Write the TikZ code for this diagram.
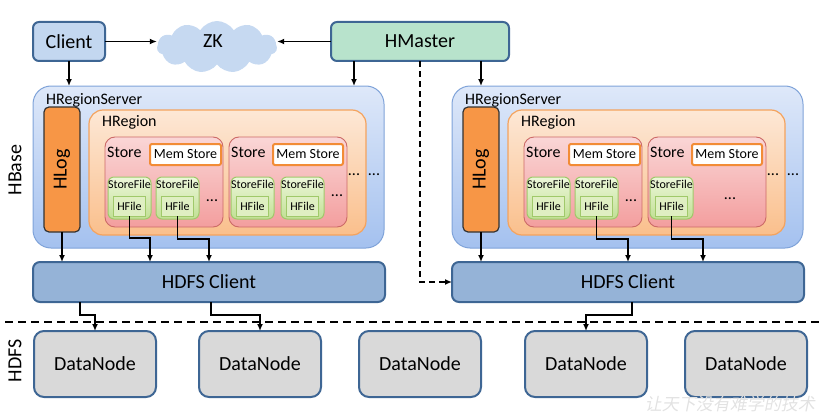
\documentclass[tikz,border=0pt]{standalone}
\usepackage{fontspec}
\setmainfont{Carlito}
\newfontfamily\wmfont[FakeSlant=0.2]{Noto Sans CJK SC}
\usetikzlibrary{shapes.symbols,arrows.meta,calc}

\definecolor{edgeblue}{HTML}{3E6694}
\definecolor{clientfill}{HTML}{C3D7F0}
\definecolor{cloudfill}{HTML}{C6D9F1}
\definecolor{masterfill}{HTML}{B8E3CC}
\definecolor{rstop}{HTML}{DEE8F9}
\definecolor{rsbot}{HTML}{A4C1EF}
\definecolor{rsedge}{HTML}{7FA3D9}
\definecolor{regtop}{HTML}{FDE8D6}
\definecolor{regbot}{HTML}{FABF8C}
\definecolor{regedge}{HTML}{F4A35E}
\definecolor{sttop}{HTML}{FAD6D6}
\definecolor{stbot}{HTML}{F39E9E}
\definecolor{stedge}{HTML}{CC6A67}
\definecolor{sftop}{HTML}{EDF7DA}
\definecolor{sfbot}{HTML}{C1E094}
\definecolor{sfedge}{HTML}{A0C96A}
\definecolor{hffill}{HTML}{DFEFC2}
\definecolor{logfill}{HTML}{F79646}
\definecolor{memedge}{HTML}{F28C36}
\definecolor{hdfsfill}{HTML}{95B3D7}
\definecolor{dnfill}{HTML}{D9D9D9}
\definecolor{wmgray}{HTML}{E2E2E2}

\newcommand\szA{\fontsize{20}{24}\selectfont}
\newcommand\szB{\fontsize{16}{19}\selectfont}
\newcommand\szC{\fontsize{14}{17}\selectfont}
\newcommand\szD{\fontsize{12}{14}\selectfont}

\tikzset{
  nw/.style={anchor=north west, inner sep=0pt, outer sep=0pt},
  topbox/.style={nw, draw=edgeblue, line width=2pt, rounded corners=6pt, font=\szA},
  rsbox/.style={nw, draw=rsedge, line width=1pt, rounded corners=18pt, top color=rstop, bottom color=rsbot},
  regbox/.style={nw, draw=regedge, line width=1.2pt, rounded corners=14pt, top color=regtop, bottom color=regbot},
  storebox/.style={nw, draw=stedge, line width=0.9pt, rounded corners=10pt, top color=sttop, bottom color=stbot},
  membox/.style={nw, draw=memedge, line width=2pt, rounded corners=2pt, fill=white, font=\szC, minimum width=71pt, minimum height=21pt},
  sfbox/.style={nw, draw=sfedge, line width=1pt, rounded corners=6pt, top color=sftop, bottom color=sfbot, minimum width=43pt, minimum height=42pt},
  hfbox/.style={nw, draw=sfedge, line width=1pt, fill=hffill, font=\szD, minimum width=32pt, minimum height=20pt},
  logbox/.style={nw, draw=black!80, line width=1.2pt, rounded corners=5pt, fill=logfill, font=\szA},
  hdfsbox/.style={nw, draw=edgeblue, line width=2pt, rounded corners=7pt, fill=hdfsfill, font=\szA},
  dnbox/.style={nw, draw=edgeblue, line width=2pt, rounded corners=10pt, fill=dnfill, font=\szA, minimum width=122pt, minimum height=66pt},
  lbl/.style={inner sep=0pt, anchor=west},
  dots/.style={inner sep=0pt, font=\szB},
  arr/.style={line width=1.8pt, -{Latex[length=7pt,width=6pt]}},
  dasharr/.style={arr, dash pattern=on 6pt off 4pt},
}

% One HRegionServer with its HLog, HRegion, two stores and the HDFS client below it
\newcommand\regionserver[2]{%
  \begin{scope}[xshift=#2pt]
    \node[rsbox, minimum width=351pt, minimum height=162pt] (#1rs) at (33,86) {};
    \node[lbl, font=\szB] (#1rslbl) at (46,100) {HRegionServer};
    \node[logbox, minimum width=36pt, minimum height=125pt] (#1log) at (44,107) {\rotatebox{90}{HLog}};
    \node[regbox, minimum width=277pt, minimum height=125pt] (#1reg) at (89,110) {};
    \node[lbl, font=\szB] (#1reglbl) at (102,122) {HRegion};
    % first store
    \node[storebox, minimum width=118pt, minimum height=90pt] (#1sta) at (105,137) {};
    \node[lbl, font=\szB] (#1stalbl) at (107,152) {Store};
    \node[membox] (#1mema) at (150,144) {Mem Store};
    \node[sfbox] (#1sfa) at (108,177) {};
    \node[font=\szD, inner sep=0pt] (#1sfalbl) at ($(#1sfa.north)+(0,7.5)$) {StoreFile};
    \node[hfbox] (#1hfa) at (113.5,196) {HFile};
    \node[sfbox] (#1sfb) at (156,177) {};
    \node[font=\szD, inner sep=0pt] (#1sfblbl) at ($(#1sfb.north)+(0,7.5)$) {StoreFile};
    \node[hfbox] (#1hfb) at (161.5,196) {HFile};
    \node[dots] (#1dotsa) at (212,201) {...};
    % second store
    \node[storebox, minimum width=118pt, minimum height=90pt] (#1stb) at (229,137) {};
    \node[lbl, font=\szB] (#1stblbl) at (231,152) {Store};
    \node[membox, minimum width=70pt] (#1memb) at (273,144) {Mem Store};
    \node[sfbox] (#1sfc) at (231,177) {};
    \node[font=\szD, inner sep=0pt] (#1sfclbl) at ($(#1sfc.north)+(0,7.5)$) {StoreFile};
    \node[hfbox] (#1hfc) at (236.5,196) {HFile};
    % more stores
    \node[dots] (#1dotsc) at (354,175) {...};
    \node[dots] (#1dotsd) at (374,175) {...};
    % HDFS client
    \node[hdfsbox, minimum width=352pt, minimum height=40pt] (#1hdfs) at (33,262) {HDFS Client};
    \draw[arr] (#1log.south) -- (#1log.south |- #1hdfs.north);
  \end{scope}}

\begin{document}
\begin{tikzpicture}[x=1pt, y=-1pt]
\useasboundingbox (0,0) rectangle (824,412);

% top row
\node[topbox, fill=clientfill, minimum width=72pt, minimum height=39pt] (client) at (33,22) {Client};
\node[cloud, cloud puffs=11, cloud puff arc=115, aspect=2.3, fill=cloudfill,
      minimum width=120pt, minimum height=52pt, inner sep=0pt] (zk) at (217,47) {};
\node[font=\szA, inner sep=0pt] (zklbl) at (213,41) {ZK};
\node[topbox, fill=masterfill, minimum width=178pt, minimum height=39pt] (master) at (331,22) {HMaster};

\draw[arr] (client.east) -- (client.east -| zk.west);
\draw[arr] (master.west) -- (master.west -| zk.east);

% region servers
\regionserver{L}{0}
\regionserver{R}{419}

% extra store file in the left server's second store
\node[sfbox] (Lsfd) at (281,177) {};
\node[font=\szD, inner sep=0pt] (Lsfdlbl) at ($(Lsfd.north)+(0,7.5)$) {StoreFile};
\node[hfbox] (Lhfd) at (286.5,196) {HFile};
\node[dots] (Ldotsb) at (337,196) {...};
\node[dots] (Rdotsb) at (730,199) {...};

% arrows into the region servers
\draw[arr] (client.south) -- (client.south |- Lrs.north);
\coordinate (mL) at (354,61);
\coordinate (mR) at (481,61);
\draw[arr] (mL) -- (mL |- Lrs.north);
\draw[arr] (mR) -- (mR |- Rrs.north);
\draw[dasharr] (master.south) |- (Rhdfs.west);

% store files to HDFS clients
\coordinate (bLa) at (150,238);
\coordinate (bLb) at (209,239);
\coordinate (bRa) at (628,239);
\coordinate (bRb) at (703,239);
\draw[arr] (Lhfa.south) |- (bLa) -- (bLa |- Lhdfs.north);
\draw[arr] (Lhfb.south) |- (bLb) -- (bLb |- Lhdfs.north);
\draw[arr] (Rhfb.south) |- (bRa) -- (bRa |- Rhdfs.north);
\draw[arr] (Rhfc.south) |- (bRb) -- (bRb |- Rhdfs.north);

% layer separator and side labels
\coordinate (sepA) at (5,322);
\coordinate (sepB) at (821,322);
\draw[line width=2pt, dash pattern=on 8pt off 5pt] (sepA) -- (sepB);
\node[font=\szA, inner sep=0pt, rotate=90] (hbase) at (15,170) {HBase};
\node[font=\szA, inner sep=0pt, rotate=90] (hdfslbl) at (15,361) {HDFS};

% data nodes
\node[dnbox] (dn1) at (34,331) {DataNode};
\node[dnbox] (dn2) at (199,331) {DataNode};
\node[dnbox] (dn3) at (359,331) {DataNode};
\node[dnbox] (dn4) at (525,331) {DataNode};
\node[dnbox] (dn5) at (685,331) {DataNode};

\coordinate (cA) at (80,315);
\coordinate (cB) at (211,315);
\coordinate (cC) at (632,315);
\draw[arr] (cA |- Lhdfs.south) -- (cA) -| (dn1.north);
\draw[arr] (cB |- Lhdfs.south) -- (cB) -| (dn2.north);
\draw[arr] (cC |- Rhdfs.south) -- (cC) -| (dn4.north);

% watermark
\node[font=\wmfont\fontsize{17}{20}\selectfont, text=wmgray, inner sep=0pt, anchor=east] (wm) at (815,404) {让天下没有难学的技术};
\end{tikzpicture}
\end{document}
